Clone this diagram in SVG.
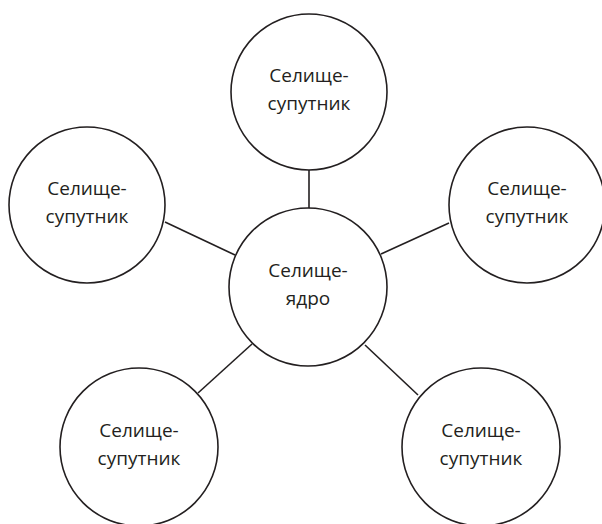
<svg xmlns="http://www.w3.org/2000/svg" width="602" height="524" viewBox="0 0 602 524">
<style>
.n circle{fill:#fff;stroke:#231f20;stroke-width:1.6}
.n text{font-family:"Open Sans","Liberation Sans",sans-serif;font-size:19px;fill:#231f20;text-anchor:middle}
.c line{stroke:#231f20;stroke-width:1.6}
</style>
<rect width="602" height="524" fill="#fff"/>
<g class="c" id="connectors">
<line x1="309" y1="170" x2="309" y2="209"/>
<line x1="165" y1="222" x2="235" y2="255"/>
<line x1="381" y1="254" x2="449" y2="223"/>
<line x1="252" y1="344" x2="198" y2="393"/>
<line x1="365" y1="345" x2="418" y2="395"/>
</g>
<g class="n" id="core"><circle cx="308" cy="287" r="79"/><text x="308" y="277">Селище-</text><text x="308" y="305">ядро</text></g>
<g class="n" id="sat-top"><circle cx="309" cy="92" r="78"/><text x="309" y="82">Селище-</text><text x="309" y="110">супутник</text></g>
<g class="n" id="sat-left"><circle cx="87" cy="205" r="78"/><text x="87" y="195">Селище-</text><text x="87" y="223">супутник</text></g>
<g class="n" id="sat-right"><circle cx="527" cy="205" r="78"/><text x="527" y="195">Селище-</text><text x="527" y="223">супутник</text></g>
<g class="n" id="sat-bottom-left"><circle cx="139" cy="447" r="79"/><text x="139" y="437">Селище-</text><text x="139" y="465">супутник</text></g>
<g class="n" id="sat-bottom-right"><circle cx="481" cy="447" r="79"/><text x="481" y="437">Селище-</text><text x="481" y="465">супутник</text></g>
</svg>
